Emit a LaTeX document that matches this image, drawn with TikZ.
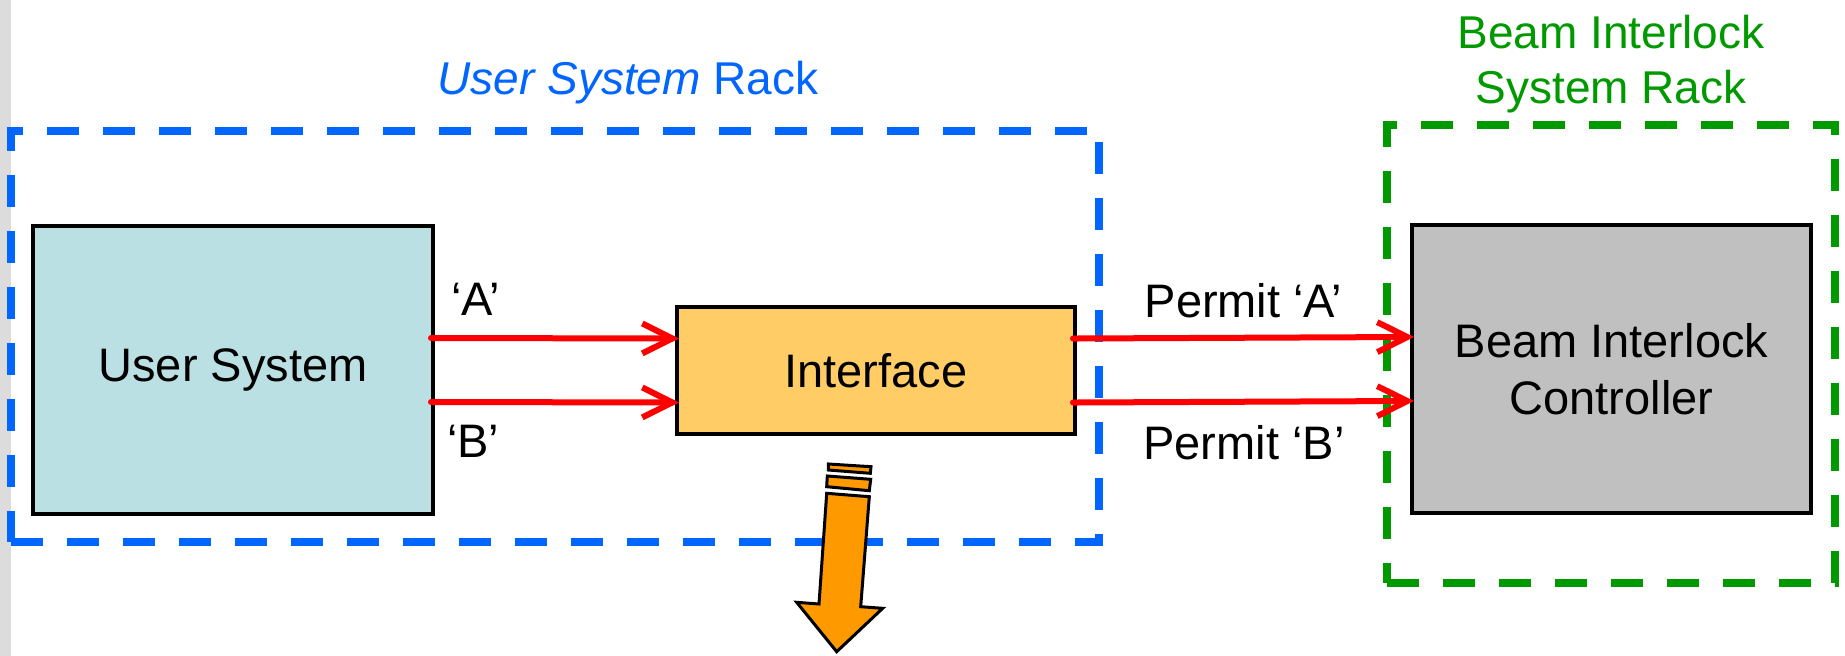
\documentclass[tikz,border=0pt]{standalone}
\usepackage{fontspec}
\setmainfont{Liberation Sans}
\usetikzlibrary{arrows.meta}

\definecolor{rackblue}{HTML}{0066FF}
\definecolor{rackgreen}{HTML}{009900}
\definecolor{usercyan}{HTML}{BBE0E3}
\definecolor{ifaceorange}{HTML}{FFCC66}
\definecolor{bicgray}{HTML}{C0C0C0}
\definecolor{signalred}{HTML}{FF0000}
\definecolor{outarrow}{HTML}{FF9900}
\definecolor{margingray}{HTML}{DCDCDC}

\begin{document}
\begin{tikzpicture}[x=1pt,y=-1pt,
  txt/.style={font=\fontsize{47}{57}\selectfont, inner sep=0pt},
  title/.style={font=\fontsize{46}{54.3}\selectfont, inner sep=0pt, align=center},
  unit/.style={draw=black, line width=4pt, inner sep=0pt, txt, align=center},
  rack/.style={draw, line width=8pt, dash pattern=on 32pt off 24pt, inner sep=0pt},
  signal/.style={draw=signalred, line width=6pt, line cap=round,
    -{Straight Barb[length=30pt,width=30pt]}, shorten >=-4pt, shorten <=-4pt},
  outflow/.style={draw=black, fill=outarrow, line width=3pt, line join=miter},
]
\useasboundingbox (0,0) rectangle (1845,656);
\fill[white] (0,0) rectangle (1845,656);
\fill[margingray] (0,0) rectangle (11,656);

% racks
\node[rack, draw=rackblue, minimum width=1088pt, minimum height=411.5pt] (usrack) at (555,336.25) {};
\node[rack, draw=rackgreen, minimum width=448pt, minimum height=458pt] (birack) at (1611,354) {};

% rack titles
\node[title, text=rackblue, anchor=base] (usracklabel) at (628,94) {\textit{User System} Rack};
\node[title, text=rackgreen] (biracklabel) at (1611,64) {Beam Interlock\\System Rack};

% units
\node[unit, fill=usercyan, minimum width=400pt, minimum height=288pt] (user) at (233,370) {User System};
\node[unit, fill=ifaceorange, minimum width=398pt, minimum height=127pt] (iface) at (876,370.5) {Interface};
\node[unit, fill=bicgray, minimum width=399pt, minimum height=288pt] (bic) at (1611.5,369) {Beam Interlock\\Controller};

% signals
\draw[signal] ([yshift=32pt]user.east) -- ([yshift=32pt]iface.west);
\draw[signal] ([yshift=-32pt]user.east) -- ([yshift=-32pt]iface.west);
\draw[signal] ([yshift=32pt]iface.east) -- ([yshift=32pt]bic.west);
\draw[signal] ([yshift=-32pt]iface.east) -- ([yshift=-32pt]bic.west);

% signal labels
\node[txt, anchor=base west] (la) at (451,315) {‘A’};
\node[txt, anchor=base west] (lb) at (447,457) {‘B’};
\node[txt, anchor=base] (pa) at (1243.5,317) {Permit ‘A’};
\node[txt, anchor=base] (pb) at (1244,459) {Permit ‘B’};

% output arrow leaving the interface
\draw[outflow] (828.3,464) -- (871,466.7) -- (870.3,473.3) -- (828.3,470) -- cycle;
\draw[outflow] (827.3,476) -- (870.7,479.3) -- (869.3,490.7) -- (826.7,486.7) -- cycle;
\draw[outflow] (826.7,493.3) -- (869.3,496.7) -- (860.7,606.7) -- (882.7,608.3)
  -- (836.7,651.7) -- (796.7,602.3) -- (819,604) -- cycle;
\end{tikzpicture}
\end{document}
